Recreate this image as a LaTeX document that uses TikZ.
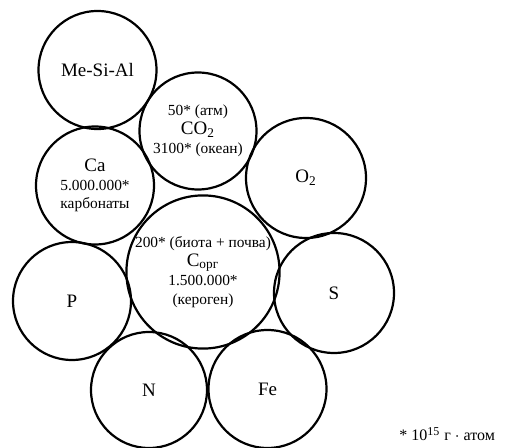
\documentclass[tikz,border=0pt]{standalone}
\usepackage{fontspec}
\setmainfont{Liberation Serif}
\begin{document}
\begin{tikzpicture}[x=0.5pt,y=-0.5pt,
  res/.style={draw, circle, line width=1.1pt, inner sep=0pt, align=center,
              font=\fontsize{7.7}{9.4}\selectfont},
  elem/.style={res, font=\fontsize{9.5}{11}\selectfont}]
\useasboundingbox (0,0) rectangle (508,448);
% reservoirs of the elements, drawn as touching circles
\node[elem, minimum size=59pt] (mesial) at (97.5,70) {Me-Si-Al};
\node[res,  minimum size=58.5pt] (co2) at (198,131)
  {50* (атм)\\{\fontsize{9.5}{11}\selectfont CO\textsubscript{2}}\\3100* (океан)};
\node[res,  minimum size=59pt] (ca) at (95,185.5)
  {{\fontsize{9.5}{11}\selectfont Ca}\\5.000.000*\\карбонаты};
\node[elem, minimum size=60pt] (o2) at (306,178) {O\textsubscript{2}};
\node[res,  minimum size=76pt] (corg) at (203,272)
  {200* (биота + почва)\\{\fontsize{9.5}{11}\selectfont C\textsubscript{орг}}\\1.500.000*\\(кероген)};
\node[elem, minimum size=59pt] (p) at (72,301) {P};
\node[elem, minimum size=60pt] (s) at (334,293) {S};
\node[elem, minimum size=58pt] (n) at (149,390) {N};
\node[elem, minimum size=59pt] (fe) at (267.5,389) {Fe};
% unit note
\node[font=\fontsize{8}{9.5}\selectfont, anchor=east] (unit) at (502,434)
  {* 10\textsuperscript{15} г $\cdot$ атом};
\end{tikzpicture}
\end{document}
